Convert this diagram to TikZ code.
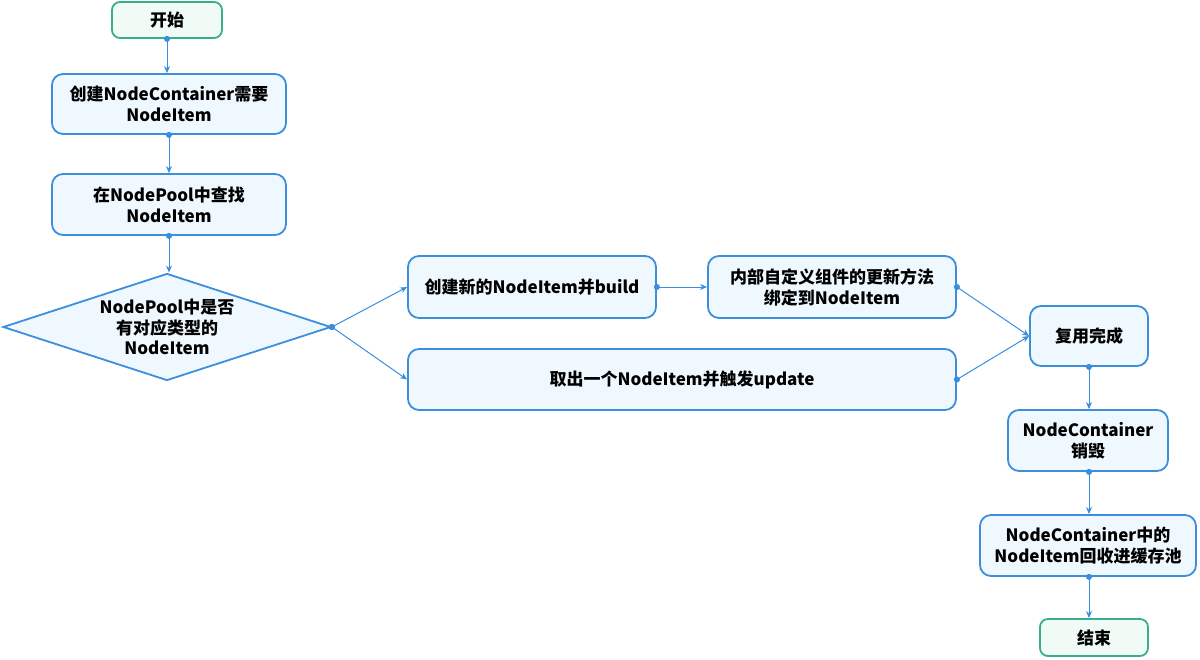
\documentclass[tikz,border=0pt]{standalone}
\usepackage{fontspec}
\setmainfont{Noto Sans CJK SC}
\usetikzlibrary{arrows.meta,shapes.geometric}
\definecolor{bborder}{HTML}{3D8FDC}
\definecolor{bfill}{HTML}{EEF8FE}
\definecolor{gborder}{HTML}{3AAE8C}
\definecolor{gfill}{HTML}{EFFBF4}
\definecolor{edgec}{HTML}{3A8EE0}
\tikzset{
  box/.style={draw=bborder, fill=bfill, line width=1.8pt, rounded corners=11pt, align=center,
    font=\fontsize{17}{21}\selectfont\bfseries, inner sep=0pt},
  term/.style={draw=gborder, fill=gfill, line width=1.8pt, rounded corners=8pt, align=center,
    font=\fontsize{17}{21}\selectfont\bfseries, inner sep=0pt},
  dia/.style={diamond, draw=bborder, fill=bfill, line width=1.8pt, align=center,
    font=\fontsize{17}{20.5}\selectfont\bfseries, inner sep=0pt, aspect=3.07},
  conn/.style={draw=edgec, line width=1pt, shorten <=-3pt,
    {Circle[length=6pt,width=6pt]}-{Stealth[length=7pt,width=6pt]}},
}
\begin{document}
\begin{tikzpicture}[x=1pt,y=-1pt]
\useasboundingbox (0,0) rectangle (1200,659);
\node[term, minimum width=110pt, minimum height=36pt] (start) at (167,20) {开始};
\node[box, minimum width=234pt, minimum height=60pt] (create) at (169,104) {创建NodeContainer需要\\NodeItem};
\node[box, minimum width=234pt, minimum height=61pt] (find) at (169,204.5) {在NodePool中查找\\NodeItem};
\node[dia, minimum width=328pt, minimum height=107pt] (q) at (167,327) {NodePool中是否\\有对应类型的\\NodeItem};
\node[box, minimum width=248pt, minimum height=62pt] (new) at (532,287) {创建新的NodeItem并build};
\node[box, minimum width=248pt, minimum height=62pt] (bind) at (832,287) {内部自定义组件的更新方法\\绑定到NodeItem};
\node[box, minimum width=548pt, minimum height=61pt] (take) at (682,379.5) {取出一个NodeItem并触发update};
\node[box, minimum width=118pt, minimum height=60pt] (reuse) at (1089,336) {复用完成};
\node[box, minimum width=160pt, minimum height=61pt] (destroy) at (1088,440.5) {NodeContainer\\销毁};
\node[box, minimum width=216pt, minimum height=61pt] (recycle) at (1088,545.5) {NodeContainer中的\\NodeItem回收进缓存池};
\node[term, minimum width=108pt, minimum height=37pt] (end) at (1094,637.5) {结束};

\draw[conn] (start.south) -- (start.south |- create.north);
\draw[conn] (create.south -| find.north) -- (find.north);
\draw[conn] (find.south) -- (find.south |- q.north);
\draw[conn] (q.east) -- (new.west);
\draw[conn] (q.east) -- (take.west);
\draw[conn] (new.east) -- (bind.west);
\draw[conn] (bind.east) -- (reuse.west);
\draw[conn] (take.east) -- (reuse.west);
\draw[conn] (reuse.south) -- (reuse.south |- destroy.north);
\draw[conn] (reuse.south |- destroy.south) -- (reuse.south |- recycle.north);
\draw[conn] (reuse.south |- recycle.south) -- (reuse.south |- end.north);
\end{tikzpicture}
\end{document}
